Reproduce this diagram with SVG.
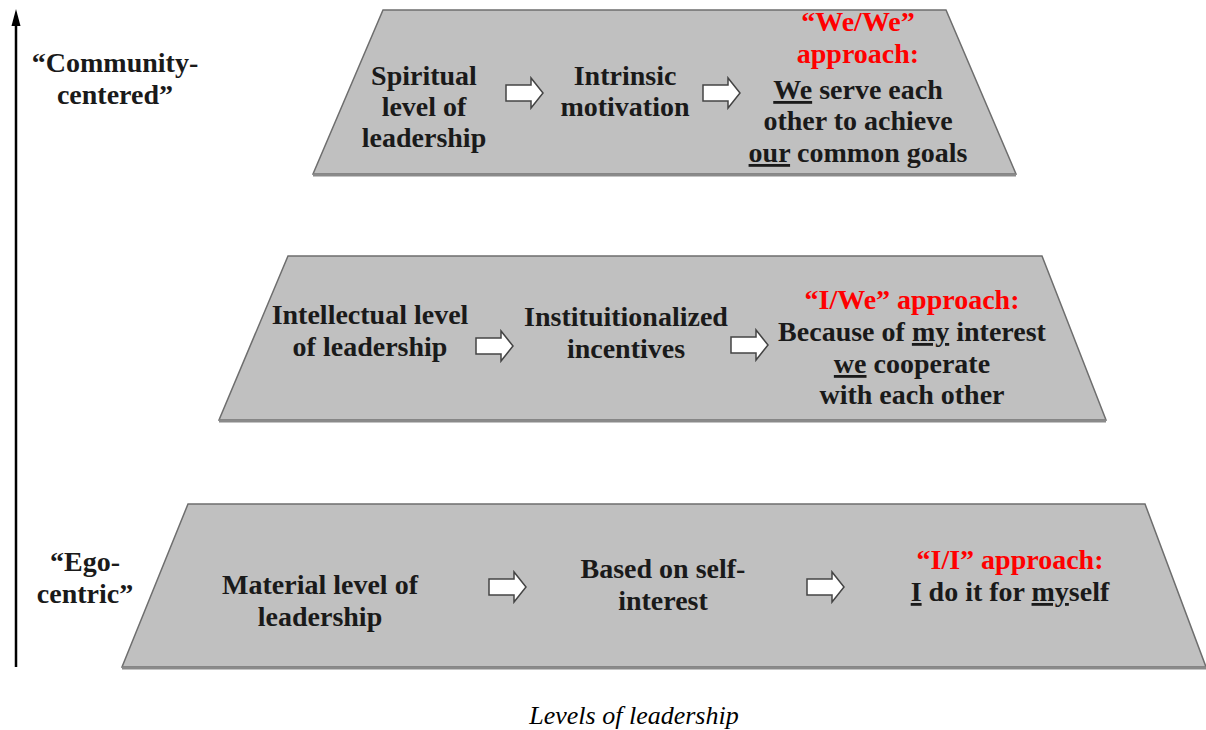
<svg xmlns="http://www.w3.org/2000/svg" width="1206" height="730" viewBox="0 0 1206 730">
<style>
.tz{fill:#c0c0c0;stroke:#6e6e6e;stroke-width:1.5}
.sh{fill:none;stroke:#8a8a8a;stroke-width:3}
.t{font-family:"Liberation Serif","Times New Roman",serif;font-weight:bold;font-size:28px;fill:#1a1a1a;text-anchor:middle}
.r{fill:#ff0000}
.u{text-decoration:underline}
.cap{font-family:"Liberation Serif","Times New Roman",serif;font-style:italic;font-size:26px;fill:#000;text-anchor:middle}
.ba{fill:#ffffff;stroke:#444;stroke-width:1.5}
</style>
<defs>
<path id="blk" d="M0,-8 H25 V-15 L37,0 L25,15 V8 H0 Z"/>
</defs>

<g id="axis">
<line x1="16" y1="667" x2="16" y2="22" stroke="#000" stroke-width="2.5"/>
<path d="M16,9 L20.5,26 L11.5,26 Z" fill="#000"/>
</g>
<g id="label-community">
<text class="t" x="115" y="72">“Community-</text>
<text class="t" x="115" y="104">centered”</text>
</g>
<g id="label-ego">
<text class="t" x="85" y="571">“Ego-</text>
<text class="t" x="85" y="603">centric”</text>
</g>

<g id="level-spiritual">
<polygon class="tz" points="383,10 946,10 1016,174 313,174"/>
<line class="sh" x1="313" y1="175" x2="1016" y2="175"/>
<text class="t" x="424" y="85">Spiritual</text>
<text class="t" x="424" y="116">level of</text>
<text class="t" x="424" y="147">leadership</text>
<text class="t" x="625" y="85">Intrinsic</text>
<text class="t" x="625" y="116">motivation</text>
<text class="t r" x="858" y="31">“We/We”</text>
<text class="t r" x="858" y="63">approach:</text>
<text class="t" x="858" y="99"><tspan class="u">We</tspan> serve each</text>
<text class="t" x="858" y="130">other to achieve</text>
<text class="t" x="858" y="162"><tspan class="u">our</tspan> common goals</text>
</g>

<g id="level-intellectual">
<polygon class="tz" points="288,256 1042,256 1106,420 219,420"/>
<line class="sh" x1="219" y1="421" x2="1106" y2="421"/>
<text class="t" x="370" y="324">Intellectual level</text>
<text class="t" x="370" y="356">of leadership</text>
<text class="t" x="626" y="326">Instituitionalized</text>
<text class="t" x="626" y="358">incentives</text>
<text class="t r" x="912" y="309">“I/We” approach:</text>
<text class="t" x="912" y="341">Because of <tspan class="u">my</tspan> interest</text>
<text class="t" x="912" y="373"><tspan class="u">we</tspan> cooperate</text>
<text class="t" x="912" y="404">with each other</text>
</g>

<g id="level-material">
<polygon class="tz" points="188,504 1145,504 1206,667 122,667"/>
<line class="sh" x1="122" y1="668" x2="1206" y2="668"/>
<text class="t" x="320" y="594">Material level of</text>
<text class="t" x="320" y="626">leadership</text>
<text class="t" x="663" y="578">Based on self-</text>
<text class="t" x="663" y="610">interest</text>
<text class="t r" x="1010" y="569">“I/I” approach:</text>
<text class="t" x="1010" y="601"><tspan class="u">I</tspan> do it for <tspan class="u">my</tspan>self</text>
</g>

<g id="connectors">
<use href="#blk" class="ba" x="506" y="93"/>
<use href="#blk" class="ba" x="703" y="93"/>
<use href="#blk" class="ba" x="476" y="346"/>
<use href="#blk" class="ba" x="731" y="345"/>
<use href="#blk" class="ba" x="489" y="587"/>
<use href="#blk" class="ba" x="807" y="587"/>
</g>

<text class="cap" x="634" y="724">Levels of leadership</text>
</svg>
